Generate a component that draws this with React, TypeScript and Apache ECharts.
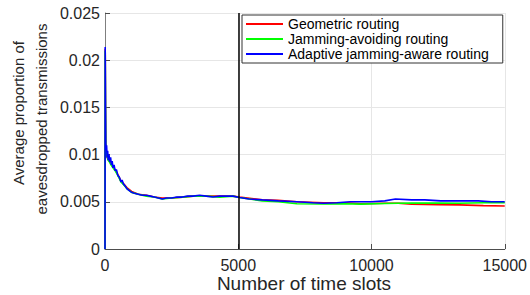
import React, { useEffect, useRef } from "react";
import * as echarts from "echarts";

const seriesNames = ["Geometric routing", "Jamming-avoiding routing", "Adaptive jamming-aware routing"];
const seriesColors = ["#ff0000", "#00ff00", "#0000ff"];

const redData: [number, number][] = [
  [0, 0], [8, 0.0212], [20, 0.0148], [30, 0.0111], [50, 0.0104], [80, 0.0097], [120, 0.0095], [170, 0.0093],
  [230, 0.0090], [300, 0.0087], [380, 0.0084], [480, 0.0079], [600, 0.0072], [700, 0.0069], [820, 0.0065],
  [1000, 0.0061], [1250, 0.0058], [1550, 0.0057], [1850, 0.0055], [2150, 0.0054], [2500, 0.0054],
  [2900, 0.0055], [3300, 0.0056], [3800, 0.0056], [4300, 0.0056], [4800, 0.0056], [5050, 0.0055],
  [5900, 0.0052], [6500, 0.00515], [7200, 0.0050], [8200, 0.0049], [9000, 0.0049], [9600, 0.0048],
  [10500, 0.00485], [11000, 0.00485], [11500, 0.00475], [12500, 0.0047], [13300, 0.00467],
  [14200, 0.0046], [15000, 0.00456],
];

const greenData: [number, number][] = [
  [0, 0], [8, 0.0210], [20, 0.0146], [30, 0.0110], [50, 0.0103], [80, 0.0098], [120, 0.0094], [170, 0.0092],
  [230, 0.0089], [300, 0.0086], [380, 0.0083], [480, 0.0078], [600, 0.0071], [700, 0.0068], [820, 0.0064],
  [1000, 0.0060], [1250, 0.0058], [1550, 0.0056], [1850, 0.0055], [2150, 0.0053], [2500, 0.0054],
  [2900, 0.0055], [3300, 0.0056], [3800, 0.0056], [4300, 0.0055], [4800, 0.0056], [5050, 0.00545],
  [5900, 0.0051], [6500, 0.0050], [7200, 0.0048], [8200, 0.00477], [9000, 0.0048], [9600, 0.00475],
  [10500, 0.00482], [11500, 0.00487], [12500, 0.00486], [13300, 0.00484], [14200, 0.0049], [15000, 0.0049],
];

const blueData: [number, number][] = [
  [0, 0], [8, 0.0214], [20, 0.0150], [30, 0.0112], [45, 0.0105], [60, 0.0110], [80, 0.0097], [100, 0.0104],
  [120, 0.0094], [150, 0.0100], [180, 0.0092], [210, 0.0097], [240, 0.0089], [270, 0.0093], [300, 0.0086],
  [340, 0.0089], [380, 0.0083], [430, 0.0084], [480, 0.0078], [540, 0.0076], [600, 0.0071], [640, 0.0073],
  [690, 0.0069], [750, 0.0067], [820, 0.0064], [900, 0.0062], [1000, 0.0060], [1100, 0.0059], [1250, 0.0058],
  [1400, 0.0057], [1550, 0.0057], [1700, 0.0056], [1850, 0.0055], [2000, 0.0054], [2150, 0.0053],
  [2300, 0.0054], [2500, 0.0054], [2700, 0.0055], [2900, 0.0055], [3100, 0.0056], [3300, 0.0056],
  [3550, 0.0057], [3800, 0.0056], [4050, 0.0055], [4300, 0.0056], [4550, 0.0056], [4800, 0.0056],
  [5050, 0.00545], [5400, 0.0053], [5900, 0.0052], [6500, 0.0051], [7200, 0.0050], [7800, 0.0049],
  [8200, 0.00485], [8700, 0.0049], [9200, 0.0050], [9600, 0.0050], [10000, 0.0050], [10500, 0.0051],
  [10900, 0.0053], [11500, 0.0052], [12000, 0.0052], [12600, 0.0051], [13300, 0.0051], [14000, 0.0051],
  [14500, 0.0050], [15000, 0.0050],
];

const markerX = 5000;
const xMax = 15000;
const yMax = 0.025;
const xLabel = "Number of time slots";
const yLabelLines = ["Average proportion of", "eavesdropped transmissions"];

const FONT = "'Liberation Sans', Arial, sans-serif";
const LINE_ICON = "path://M0,0 H37 V2 H0 Z";

export default function App() {
  const ref = useRef<HTMLDivElement>(null);
  useEffect(() => {
    if (!ref.current) return;
    const chart = echarts.init(ref.current, null, { renderer: "svg" });
    const allData = [redData, greenData, blueData];
    chart.setOption({
      animation: false,
      backgroundColor: "#ffffff",
      grid: { left: 105, right: 24.5, top: 13, bottom: 46 },
      legend: {
        orient: "vertical",
        left: 242,
        top: 15,
        padding: [2, 14, 2, 4],
        itemGap: 1,
        itemWidth: 37,
        itemHeight: 2,
        itemTextGap: 5,
        backgroundColor: "#ffffff",
        borderColor: "#333333",
        borderWidth: 1,
        textStyle: { fontFamily: FONT, fontSize: 14, lineHeight: 14, color: "#000000" },
        data: seriesNames.map((n) => ({ name: n, icon: LINE_ICON })),
      },
      xAxis: {
        type: "value",
        min: 0,
        max: xMax,
        interval: 5000,
        axisLine: { show: true, lineStyle: { color: "#4d4d4d", width: 1 } },
        axisTick: { show: true, inside: true, length: 5, lineStyle: { color: "#4d4d4d" } },
        axisLabel: { fontFamily: FONT, fontSize: 16, color: "#262626", margin: 8, formatter: (v: number) => String(v) },
        splitLine: { show: true, lineStyle: { color: "#e6e6e6", width: 1 } },
      },
      yAxis: {
        type: "value",
        min: 0,
        max: yMax,
        interval: 0.005,
        axisLine: { show: true, lineStyle: { color: "#7f7f7f", width: 1 } },
        axisTick: { show: true, inside: true, length: 5, lineStyle: { color: "#4d4d4d" } },
        axisLabel: { fontFamily: FONT, fontSize: 16, color: "#262626", margin: 5, formatter: (v: number) => String(v) },
        splitLine: { show: true, lineStyle: { color: "#e6e6e6", width: 1 } },
      },
      graphic: [
        {
          type: "text",
          x: 304,
          y: 283,
          style: { text: xLabel, fontFamily: FONT, fontSize: 19, fill: "#262626", align: "center", verticalAlign: "middle" },
        },
        {
          type: "text",
          x: 18,
          y: 113,
          rotation: Math.PI / 2,
          style: { text: yLabelLines[0], fontFamily: FONT, fontSize: 15, fill: "#262626", align: "center", verticalAlign: "middle" },
        },
        {
          type: "text",
          x: 41,
          y: 119,
          rotation: Math.PI / 2,
          style: { text: yLabelLines[1], fontFamily: FONT, fontSize: 15, fill: "#262626", align: "center", verticalAlign: "middle" },
        },
      ],
      series: seriesNames.map((name, i) => ({
        name,
        type: "line",
        data: allData[i],
        symbol: "none",
        showSymbol: false,
        lineStyle: { color: seriesColors[i], width: 1.6 },
        itemStyle: { color: seriesColors[i] },
        z: 2 + i,
        markLine:
          i === 0
            ? {
                silent: true,
                symbol: "none",
                label: { show: false },
                lineStyle: { color: "#000000", width: 1.5, type: "solid" },
                data: [{ xAxis: markerX }],
              }
            : undefined,
      })),
    });
    return () => chart.dispose();
  }, []);
  return <div ref={ref} style={{ position: "fixed", left: 0, top: 0, width: 530, height: 295 }} />;
}
